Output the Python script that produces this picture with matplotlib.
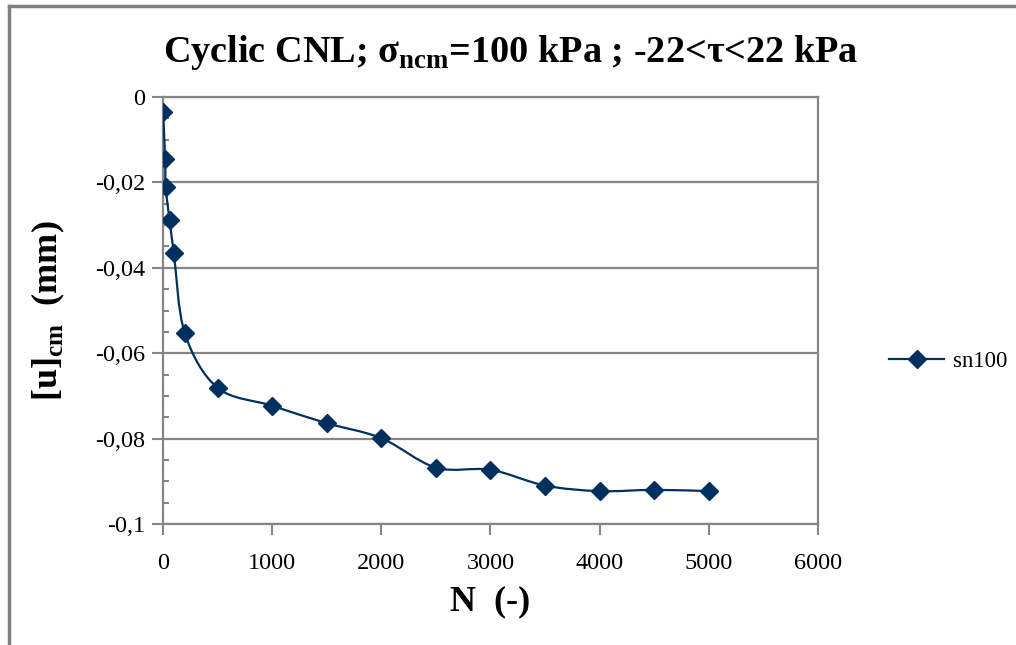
import numpy as np
import matplotlib.pyplot as plt
from matplotlib.path import Path
from matplotlib.patches import PathPatch
from matplotlib.lines import Line2D
from matplotlib.ticker import MultipleLocator, FuncFormatter

plt.rcParams['font.family'] = 'Liberation Serif'
plt.rcParams['mathtext.fontset'] = 'custom'
plt.rcParams['mathtext.rm'] = 'Liberation Serif'
plt.rcParams['mathtext.bf'] = 'Liberation Serif:bold'

# Datos
n_ciclos = [1, 20, 25, 60, 100, 200, 500, 1000, 1500, 2000, 2500, 3000, 3500, 4000, 4500, 5000]
u_cm = [-0.0034, -0.0146, -0.0211, -0.0288, -0.0366, -0.0553, -0.0681, -0.0723,
        -0.0764, -0.0799, -0.0868, -0.0873, -0.0910, -0.0923, -0.0920, -0.0923]

color = '#00305f'
grey = '#868686'

fig = plt.figure(figsize=(10.16, 6.45), dpi=100)
ax = fig.add_axes([0.1604, 0.1876, 0.6447, 0.662])

# Linea suavizada tipo Excel (Bezier por Catmull-Rom)
x = np.array(n_ciclos, dtype=float)
y = np.array(u_cm, dtype=float)
verts = [(x[0], y[0])]
codes = [Path.MOVETO]
for i in range(len(x) - 1):
    i0 = max(i - 1, 0)
    i3 = min(i + 2, len(x) - 1)
    c1 = (x[i] + (x[i + 1] - x[i0]) / 6, y[i] + (y[i + 1] - y[i0]) / 6)
    c2 = (x[i + 1] - (x[i3] - x[i]) / 6, y[i + 1] - (y[i3] - y[i]) / 6)
    verts += [c1, c2, (x[i + 1], y[i + 1])]
    codes += [Path.CURVE4] * 3
ax.add_patch(PathPatch(Path(verts, codes), facecolor='none', edgecolor=color, lw=1.6, zorder=3))
ax.plot(x, y, ls='none', marker='D', ms=9.5, color=color, zorder=4)


def fmt_coma(v, pos):
    v = round(v, 3)
    if v == 0:
        return '0'
    return ('%g' % v).replace('.', ',')


ax.set_xlim(0, 6000)
ax.set_ylim(-0.1, 0)
ax.xaxis.set_major_locator(MultipleLocator(1000))
ax.yaxis.set_major_locator(MultipleLocator(0.02))
ax.yaxis.set_minor_locator(MultipleLocator(0.005))
ax.yaxis.set_major_formatter(FuncFormatter(fmt_coma))
ax.grid(axis='y', which='major', color=grey, lw=1.6)
ax.tick_params(axis='both', which='major', direction='out', length=8, width=1.5, color=grey,
               labelsize=17.5, pad=5)
ax.tick_params(axis='x', pad=13)
ax.tick_params(axis='y', which='minor', direction='in', length=4, width=1.5, color=grey)
for s in ax.spines.values():
    s.set_color(grey)
    s.set_linewidth(1.6)

fig.text(0.503, 0.918, r'Cyclic CNL; σ$_\mathbf{ncm}$=100 kPa ; -22<τ<22 kPa', fontsize=27.5,
         fontweight='bold', ha='center', va='center')
ax.set_xlabel('N  (-)', fontsize=26, fontweight='bold', labelpad=8)
ax.set_ylabel(r'[u]$_\mathbf{cm}$  (mm)', fontsize=26, fontweight='bold', labelpad=20)

leg_handle = Line2D([], [], color=color, lw=1.6, marker='D', ms=9.5)
fig.legend([leg_handle], ['sn100'], loc='center left', bbox_to_anchor=(0.855, 0.44),
           frameon=False, fontsize=16.5, handlelength=2.4, handletextpad=0.4)

# Borde exterior del grafico
fig.add_artist(Line2D([0.009, 1.0], [0.991, 0.991], color='#7f7f7f', lw=2.5))
fig.add_artist(Line2D([0.009, 0.009], [0.0, 0.991], color='#7f7f7f', lw=2.5))

plt.savefig('out.png', dpi=100)
